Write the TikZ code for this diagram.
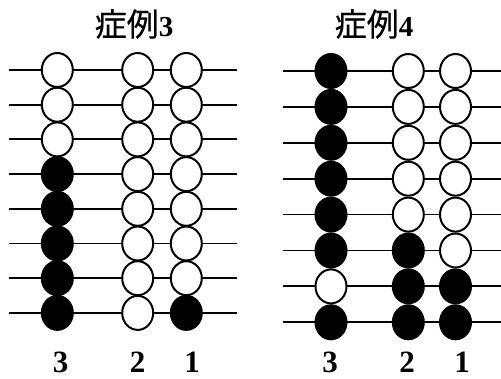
\documentclass[tikz,border=0pt]{standalone}
\usepackage{fontspec}
\setmainfont{Liberation Serif}
\newfontfamily\cjkfont[FakeBold=0.4]{Noto Sans CJK JP}
\usetikzlibrary{shapes.geometric}
\tikzset{
  wire/.style={line width=1.8pt},
  bead/.style={ellipse, draw, line width=2pt, minimum width=31pt,
               minimum height=34pt, inner sep=0pt},
  w/.style={bead, fill=white},
  k/.style={bead, fill=black},
  casetitle/.style={inner sep=0pt},
  colnum/.style={font=\fontsize{31}{31}\selectfont\bfseries, inner sep=0pt},
}
\newcommand{\casehead}[1]{{\fontsize{32}{32}\selectfont\cjkfont 症例}{\fontsize{29}{29}\selectfont\bfseries #1}}
\begin{document}
\begin{tikzpicture}[x=1pt,y=-1pt]
\useasboundingbox (0,0) rectangle (501,379);

% ---------- case 3 ----------
\node[casetitle] (tA) at (134,24) {\casehead{3}};
\foreach \i in {1,...,8} {
  \pgfmathsetmacro{\yy}{70+34.7*(\i-1)}
  \coordinate (As\i) at (9,\yy);
  \coordinate (Ae\i) at (237,\yy);
  \draw[wire] (As\i) -- (Ae\i);
}
\foreach \c/\x/\pat in {3/57.3/{w,w,w,k,k,k,k,k},
                        2/137.7/{w,w,w,w,w,w,w,w},
                        1/186.3/{w,w,w,w,w,w,w,k}} {
  \foreach \f [count=\i] in \pat {
    \node[\f] (A\c-\i) at ({\x},{70+34.7*(\i-1)}) {};
  }
}
\node[colnum] (nA3) at (60.5,362) {3};
\node[colnum] (nA2) at (137.5,362) {2};
\node[colnum] (nA1) at (192,362) {1};

% ---------- case 4 ----------
\node[casetitle] (tB) at (374,24) {\casehead{4}};
\foreach \i in {1,...,8} {
  \pgfmathsetmacro{\yy}{71+35.9*(\i-1)}
  \coordinate (Bs\i) at (283,\yy);
  \coordinate (Be\i) at (501,\yy);
  \draw[wire] (Bs\i) -- (Be\i);
}
\foreach \c/\x/\pat in {3/331/{k,k,k,k,k,k,w,k},
                        2/408.3/{w,w,w,w,w,k,k,k},
                        1/455.5/{w,w,w,w,w,w,k,k}} {
  \foreach \f [count=\i] in \pat {
    \node[\f] (B\c-\i) at ({\x},{71+35.9*(\i-1)}) {};
  }
}
\node[colnum] (nB3) at (330,362) {3};
\node[colnum] (nB2) at (407,362) {2};
\node[colnum] (nB1) at (462,362) {1};
\end{tikzpicture}
\end{document}
